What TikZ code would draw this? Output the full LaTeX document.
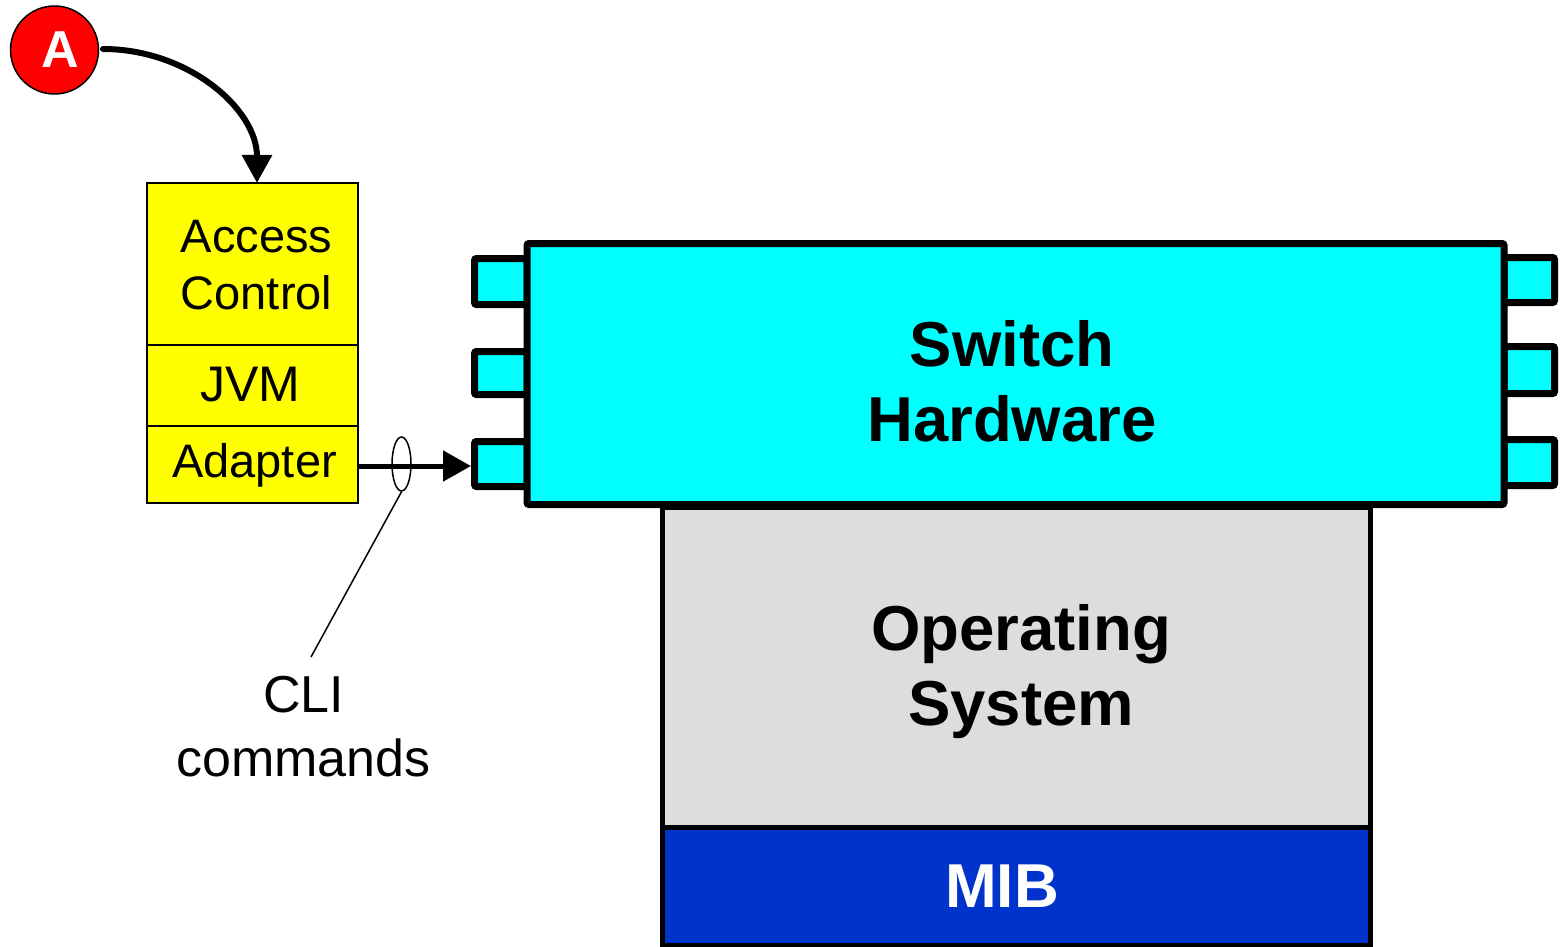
\documentclass[tikz,border=0pt]{standalone}
\usepackage{fontspec}
\setmainfont{Liberation Sans}
\usetikzlibrary{arrows.meta,shapes.geometric}
\definecolor{acyan}{HTML}{00FFFF}
\definecolor{ayellow}{HTML}{FFFF00}
\definecolor{agray}{HTML}{DDDDDD}
\definecolor{ablue}{HTML}{0033CC}
\definecolor{ared}{HTML}{FF0000}
\begin{document}
\begin{tikzpicture}[x=1pt,y=-1pt,
  box/.style={draw=black, rectangle, inner sep=0pt, outer sep=0pt},
  ybox/.style={box, fill=ayellow, line width=1.5pt, minimum width=211pt},
  port/.style={box, fill=acyan, line width=7pt, rounded corners=2pt},
  lbl/.style={inner sep=0pt, outer sep=0pt, align=center, anchor=north},
  smalltxt/.style={font=\fontsize{47}{57}\selectfont},
  bigtxt/.style={font=\fontsize{63.5}{75}\selectfont\bfseries},
]
\useasboundingbox (0,0) rectangle (1561,947);

% yellow stack
\node[ybox, minimum height=162pt] (acc) at (252.5,264) {};
\node[ybox, minimum height=81pt] (jvm) at (252.5,385.5) {};
\node[ybox, minimum height=77pt] (adp) at (252.5,464.5) {};
\node[lbl, smalltxt] (tacc) at (256.5,220) {Access\\Control};
\node[lbl, font=\fontsize{50}{50}\selectfont] (tjvm) at (250,367) {JVM};
\node[lbl, smalltxt] (tadp) at (254.5,443) {Adapter};

% ports
\node[port, minimum width=52.5pt, minimum height=46pt] (lp1) at (500.75,281.5) {};
\node[port, minimum width=52.5pt, minimum height=43pt] (lp2) at (500.75,373) {};
\node[port, minimum width=52.5pt, minimum height=45pt] (lp3) at (500.75,464) {};
\node[port, minimum width=50.5pt, minimum height=45pt] (rp1) at (1529.25,280) {};
\node[port, minimum width=50.5pt, minimum height=47pt] (rp2) at (1529.25,370) {};
\node[port, minimum width=50.5pt, minimum height=46pt] (rp3) at (1529.25,462.5) {};

% OS and MIB
\node[box, fill=agray, line width=5pt, minimum width=708pt, minimum height=320pt] (os) at (1016,667) {};
\node[box, fill=ablue, line width=5pt, minimum width=708pt, minimum height=118pt] (mib) at (1016,886) {};

% switch hardware
\node[box, fill=acyan, line width=7pt, rounded corners=2pt, minimum width=977pt, minimum height=261pt] (sw) at (1015.5,374) {};

\node[lbl, bigtxt] (tsw) at (1012,320) {Switch\\Hardware};
\node[lbl, bigtxt] (tos) at (1021,604) {Operating\\System};
\node[lbl, font=\fontsize{62}{62}\selectfont\bfseries, text=white] (tmib) at (1002,865) {MIB};

% A marker
\node[circle, draw=black, fill=ared, line width=1.5pt, minimum size=88pt, inner sep=0pt] (a) at (54.5,50) {};
\node[lbl, font=\fontsize{52}{52}\selectfont\bfseries, text=white] (ta) at (60,32) {A};

\coordinate (astart) at (103,49);
\draw[line width=6pt, line cap=round, -{Triangle[length=28pt,width=29pt]}]
  (astart) .. controls (188,49) and (257,109) .. ([xshift=4.5pt]acc.north);

% CLI arrow
\draw[line width=5pt, -{Triangle[length=28pt,width=30pt]}, shorten >=3.5pt]
  ([yshift=-1.5pt]adp.east) -- ([yshift=-1.5pt]adp.east -| lp3.west);
\node[draw=black, ellipse, line width=1.5pt, minimum width=19pt, minimum height=54pt, inner sep=0pt] (ring) at (401.5,464) {};
\node[lbl, font=\fontsize{52}{64}\selectfont] (cli) at (303.5,676) {CLI\\commands};
\coordinate (clitop) at (311,657);
\draw[line width=1.5pt] (ring.south) -- (clitop);
\end{tikzpicture}
\end{document}
